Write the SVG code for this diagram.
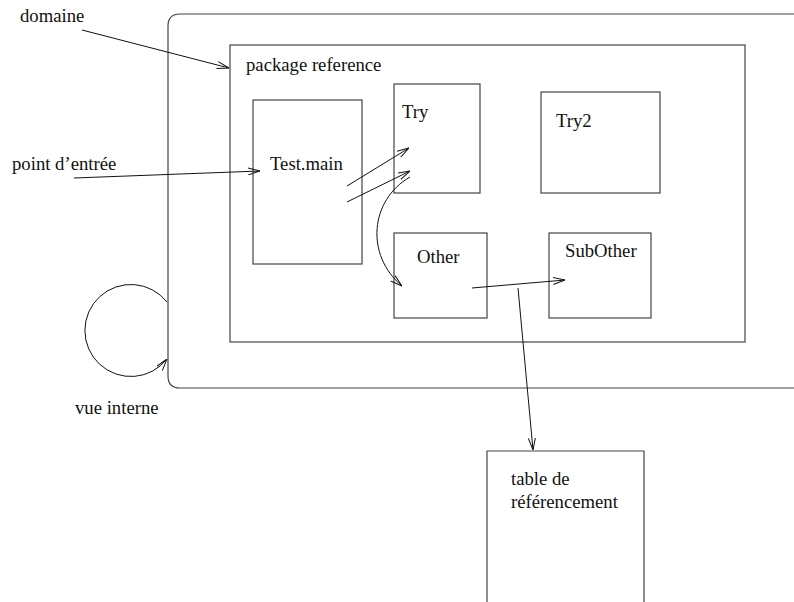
<svg xmlns="http://www.w3.org/2000/svg" width="794" height="602" viewBox="0 0 794 602">
  <style>
    .box { fill: none; stroke: #444; stroke-width: 1.2; }
    .lbl { font-family: "Liberation Serif", "Times New Roman", serif; font-size: 18.7px; fill: #111; }
    .edge { fill: none; stroke: #111; stroke-width: 1; marker-end: url(#open); }
  </style>
  <defs>
    <marker id="open" viewBox="0 0 12 8" refX="12" refY="4" markerWidth="12" markerHeight="8" markerUnits="userSpaceOnUse" orient="auto">
      <path d="M0,0.5 L12,4 L0,7.5" fill="none" stroke="#111" stroke-width="1"/>
    </marker>
  </defs>

  <rect id="bg" width="794" height="602" fill="#fff"/>

  <g id="domaine">
    <path class="box" d="M820,14 L180,14 Q168,14 168,26 L168,376 Q168,388 180,388 L820,388"/>
    <text class="lbl" x="20" y="22">domaine</text>
  </g>

  <g id="package">
    <rect class="box" x="230" y="45" width="515" height="297"/>
    <text class="lbl" x="246" y="71">package reference</text>
  </g>

  <g id="testmain">
    <rect class="box" x="253" y="100" width="109" height="164"/>
    <text class="lbl" x="270" y="170">Test.main</text>
  </g>

  <g id="try">
    <rect class="box" x="394" y="84" width="86" height="109"/>
    <text class="lbl" x="402" y="118">Try</text>
  </g>

  <g id="try2">
    <rect class="box" x="541" y="92" width="119" height="101"/>
    <text class="lbl" x="556" y="127">Try2</text>
  </g>

  <g id="other">
    <rect class="box" x="394" y="233" width="93" height="85"/>
    <text class="lbl" x="417" y="263">Other</text>
  </g>

  <g id="subother">
    <rect class="box" x="549" y="233" width="102" height="85"/>
    <text class="lbl" x="565" y="257">SubOther</text>
  </g>

  <g id="table">
    <path class="box" d="M487,610 L487,451 L644,451 L644,610"/>
    <text class="lbl" x="511" y="485">table de</text>
    <text class="lbl" x="511" y="508">référencement</text>
  </g>

  <g id="labels">
    <text class="lbl" x="12" y="170">point d’entrée</text>
    <text class="lbl" x="75" y="414">vue interne</text>
  </g>

  <g id="connectors">
    <line class="edge" x1="82" y1="30" x2="229" y2="68"/>
    <line class="edge" x1="74" y1="178" x2="260" y2="171"/>
    <line class="edge" x1="347" y1="186" x2="409" y2="148"/>
    <line class="edge" x1="347" y1="202" x2="410" y2="171"/>
    <path class="edge" d="M410,177 C370,200 365,255 402,286"/>
    <line class="edge" x1="472" y1="288" x2="565" y2="280"/>
    <line class="edge" x1="518" y1="288" x2="533" y2="450"/>
    <path class="edge" d="M167,302 A46,46 0 1 0 167,359"/>
  </g>
</svg>
